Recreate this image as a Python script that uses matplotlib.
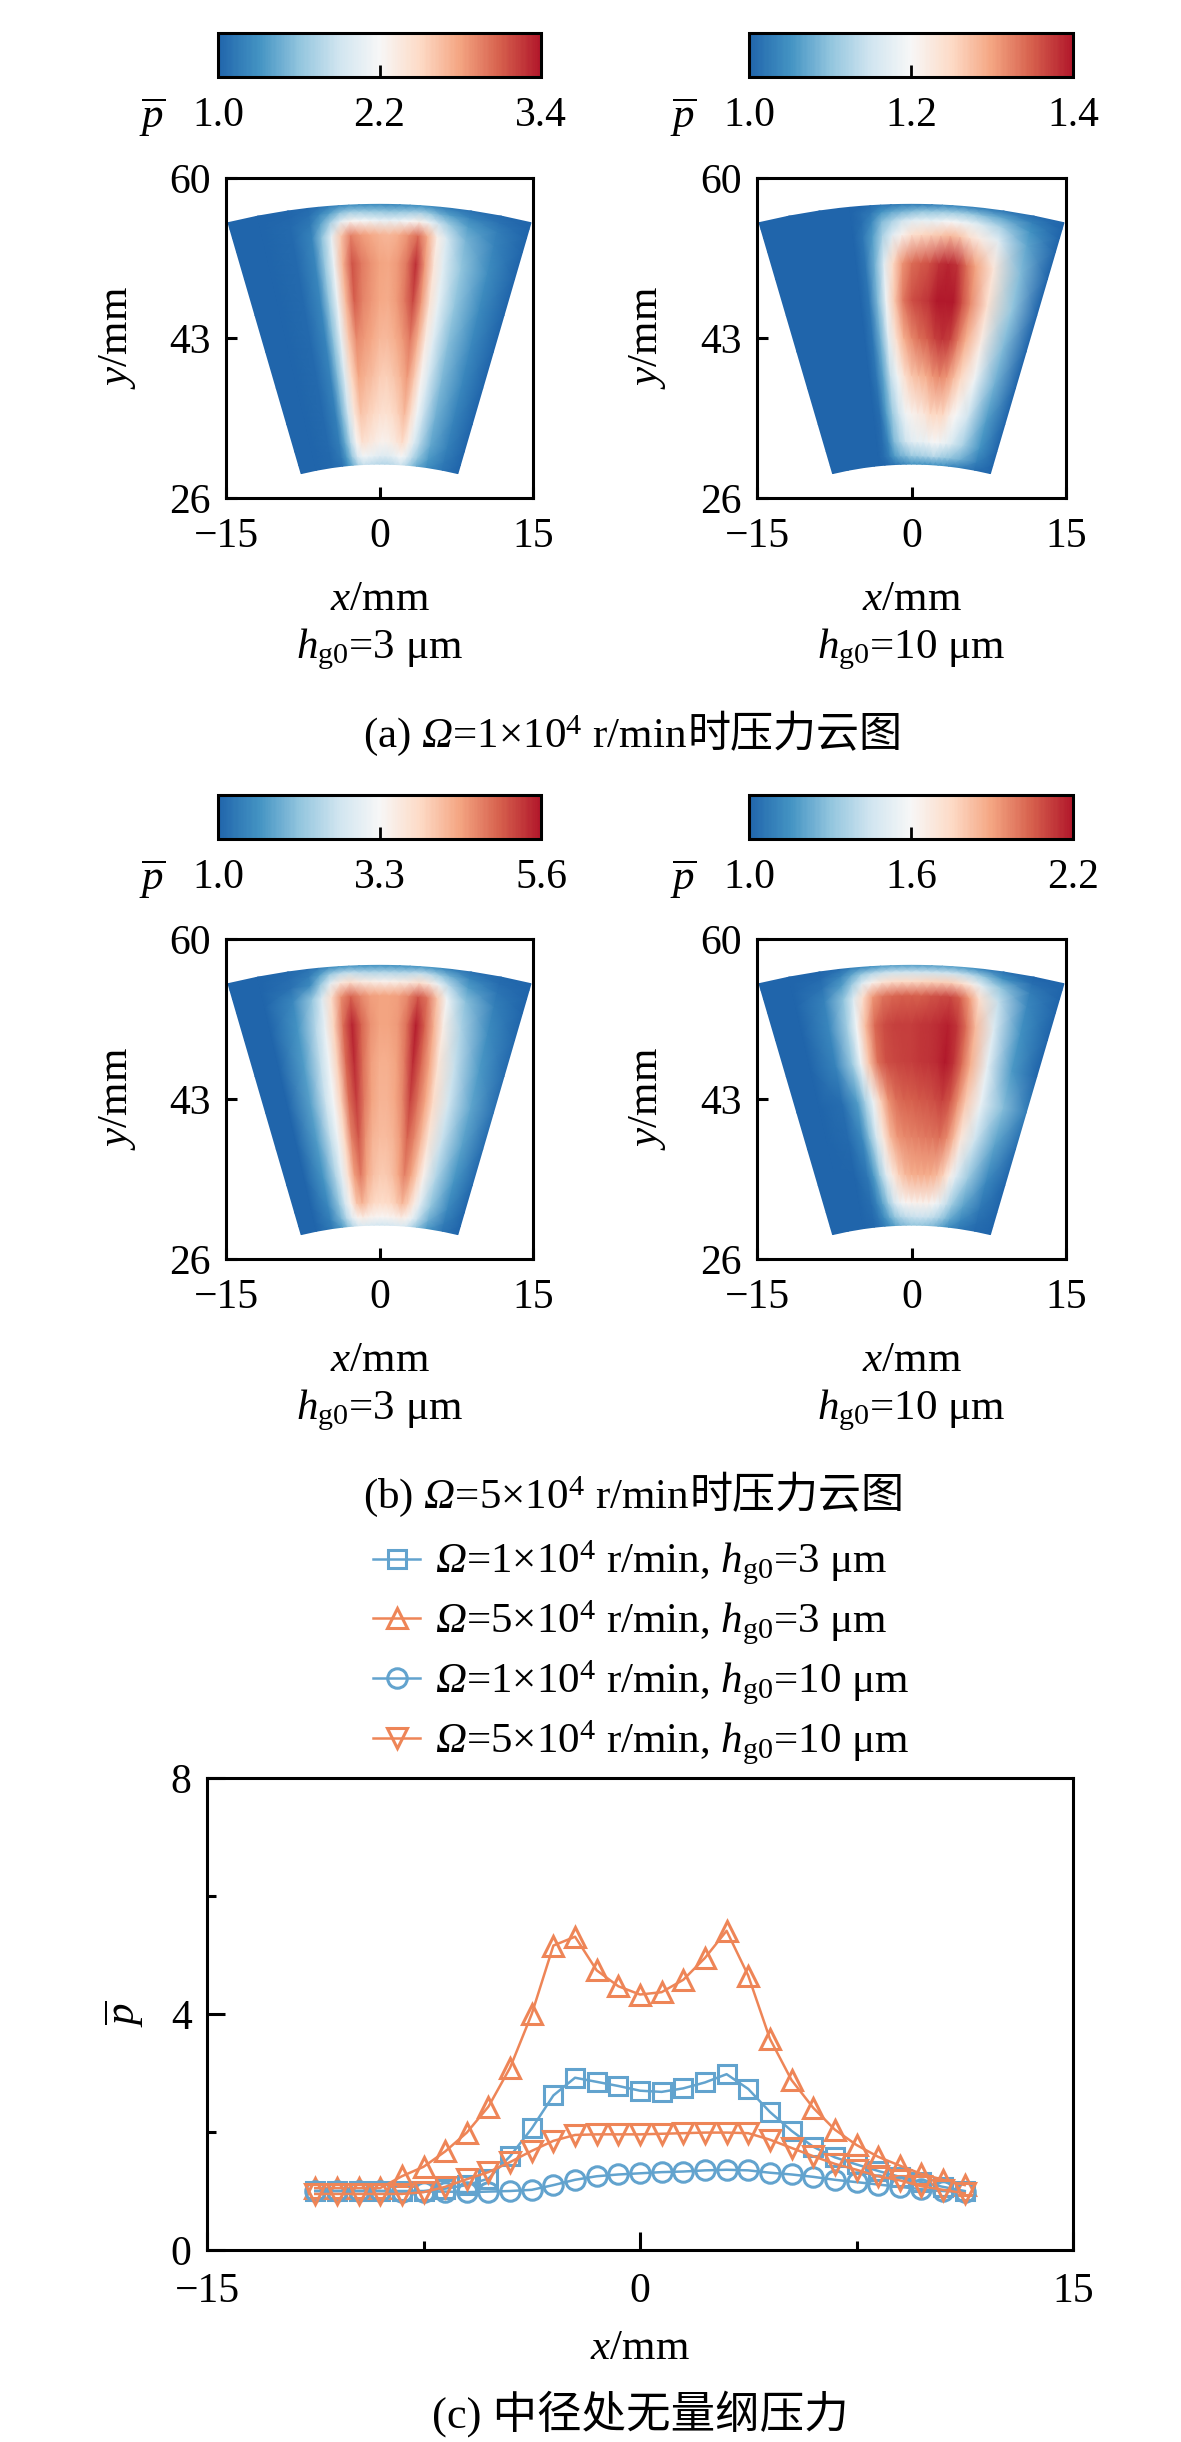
import numpy as np
import matplotlib
matplotlib.use("Agg")
import matplotlib.pyplot as plt
from matplotlib.colors import ListedColormap
from matplotlib.ticker import FormatStrFormatter

plt.rcParams['font.family'] = ['Liberation Serif', 'Noto Sans CJK SC']
plt.rcParams['mathtext.fontset'] = 'custom'
plt.rcParams['mathtext.rm'] = 'Liberation Serif'
plt.rcParams['mathtext.it'] = 'Liberation Serif:italic'
plt.rcParams['mathtext.bf'] = 'Liberation Serif:bold'
plt.rcParams['mathtext.sf'] = 'Liberation Serif:italic'
plt.rcParams['font.size'] = 31

# ---------------- data: mid-radius profiles (line chart) ----------------
x_mid = [-11.25, -10.5, -9.75, -9.0, -8.25, -7.5, -6.75, -6.0, -5.25, -4.5, -3.75,
         -3.0, -2.25, -1.5, -0.75, 0.0, 0.75, 1.5, 2.25, 3.0, 3.75, 4.5, 5.25,
         6.0, 6.75, 7.5, 8.25, 9.0, 9.75, 10.5, 11.25]
p_w1_h3 = [1.0, 1.0, 1.0, 1.0, 1.0, 1.0, 1.04, 1.1, 1.21, 1.59, 2.06, 2.62, 2.92, 2.85,
           2.78, 2.70, 2.68, 2.74, 2.84, 2.98, 2.73, 2.34, 2.02, 1.75, 1.57, 1.45, 1.34,
           1.24, 1.15, 1.07, 1.0]
p_w5_h3 = [1.05, 1.05, 1.05, 1.05, 1.25, 1.41, 1.67, 1.99, 2.43, 3.09, 4.0, 5.16, 5.31,
           4.74, 4.47, 4.33, 4.37, 4.58, 4.95, 5.41, 4.65, 3.58, 2.88, 2.41, 2.04, 1.78,
           1.58, 1.43, 1.29, 1.19, 1.10]
p_w1_h10 = [1.0, 1.0, 1.0, 1.0, 0.99, 0.99, 0.99, 0.98, 0.99, 1.0, 1.02, 1.1, 1.19, 1.25,
            1.28, 1.30, 1.32, 1.33, 1.35, 1.36, 1.35, 1.31, 1.28, 1.24, 1.19, 1.15, 1.11,
            1.07, 1.03, 1.0, 0.98]
p_w5_h10 = [0.95, 0.95, 0.95, 0.95, 0.95, 0.98, 1.07, 1.2, 1.32, 1.49, 1.68, 1.85, 1.95,
            1.96, 1.96, 1.96, 1.97, 1.98, 1.99, 1.99, 1.98, 1.87, 1.73, 1.59, 1.46, 1.36,
            1.25, 1.18, 1.08, 1.02, 0.96]

series_labels = [
    r'$\mathsf{Ω}$=1×10$^{4}$ r/min, $h_{\mathrm{g0}}$=3 μm',
    r'$\mathsf{Ω}$=5×10$^{4}$ r/min, $h_{\mathrm{g0}}$=3 μm',
    r'$\mathsf{Ω}$=1×10$^{4}$ r/min, $h_{\mathrm{g0}}$=10 μm',
    r'$\mathsf{Ω}$=5×10$^{4}$ r/min, $h_{\mathrm{g0}}$=10 μm',
]

# ---------------- data: pressure fields on the sector pad ----------------
theta_deg = [-15, -12, -9, -7, -6, -5, -4, -3, -2, -1, 0, 1, 2, 3, 4, 5, 6, 7, 9, 12, 15]
radius_mm = [29.6, 30.5, 32, 35, 39, 43, 47, 51, 54, 55.5, 56.5, 57.2]

field_w1_h3 = [
    [1, 1, 1.02, 1.09, 1.27, 1.48, 1.73, 1.86, 1.83, 1.8, 1.77, 1.76, 1.78, 1.83, 1.89, 1.78, 1.6, 1.46, 1.26, 1.11, 1],
    [1, 1, 1.02, 1.13, 1.35, 1.64, 1.97, 2.15, 2.11, 2.07, 2.02, 2.01, 2.04, 2.1, 2.19, 2.04, 1.8, 1.61, 1.34, 1.14, 1],
    [1, 1, 1.03, 1.16, 1.44, 1.8, 2.22, 2.44, 2.39, 2.34, 2.28, 2.26, 2.31, 2.38, 2.49, 2.3, 2.0, 1.77, 1.43, 1.18, 1],
    [1, 1, 1.03, 1.18, 1.5, 1.9, 2.38, 2.63, 2.57, 2.51, 2.45, 2.43, 2.48, 2.56, 2.68, 2.47, 2.14, 1.87, 1.48, 1.2, 1],
    [1, 1, 1.04, 1.2, 1.55, 1.99, 2.51, 2.79, 2.72, 2.66, 2.58, 2.56, 2.62, 2.71, 2.84, 2.61, 2.25, 1.95, 1.53, 1.22, 1],
    [1, 1, 1.04, 1.21, 1.59, 2.06, 2.62, 2.92, 2.85, 2.78, 2.70, 2.68, 2.74, 2.84, 2.98, 2.73, 2.34, 2.02, 1.57, 1.24, 1],
    [1, 1, 1.04, 1.22, 1.62, 2.11, 2.7, 3.1, 2.94, 2.86, 2.78, 2.76, 2.83, 2.98, 3.2, 2.84, 2.41, 2.07, 1.6, 1.25, 1],
    [1, 1, 1.04, 1.22, 1.63, 2.13, 2.73, 3.15, 2.98, 2.88, 2.8, 2.78, 2.85, 3.0, 3.3, 2.85, 2.38, 2.03, 1.6, 1.26, 1],
    [1, 1, 1.04, 1.21, 1.59, 2.06, 2.62, 2.95, 2.85, 2.78, 2.72, 2.7, 2.76, 2.88, 3.05, 2.75, 2.3, 1.95, 1.5, 1.2, 1],
    [1, 1, 1.03, 1.14, 1.38, 1.69, 2.05, 2.25, 2.2, 2.16, 2.1, 2.09, 2.13, 2.2, 2.29, 2.12, 1.87, 1.66, 1.37, 1.16, 1],
    [1, 1, 1.01, 1.07, 1.21, 1.37, 1.57, 1.67, 1.65, 1.62, 1.60, 1.59, 1.61, 1.64, 1.69, 1.61, 1.47, 1.36, 1.2, 1.08, 1],
    [1, 1, 1.01, 1.03, 1.09, 1.16, 1.24, 1.29, 1.28, 1.27, 1.26, 1.25, 1.26, 1.28, 1.30, 1.26, 1.2, 1.15, 1.09, 1.04, 1],
]
field_w1_h10 = [
    [1, 1, 1, 1, 1, 1.0, 1.01, 1.02, 1.03, 1.04, 1.05, 1.05, 1.05, 1.05, 1.05, 1.05, 1.05, 1.04, 1.03, 1.01, 1],
    [1, 1, 1, 1, 1, 1.01, 1.03, 1.06, 1.08, 1.09, 1.11, 1.11, 1.12, 1.12, 1.13, 1.12, 1.11, 1.1, 1.08, 1.03, 1],
    [1, 1, 1, 1, 1, 1.01, 1.04, 1.09, 1.12, 1.15, 1.17, 1.18, 1.18, 1.19, 1.2, 1.19, 1.18, 1.16, 1.12, 1.05, 1],
    [1, 1, 1, 1, 1, 1.01, 1.06, 1.11, 1.15, 1.19, 1.21, 1.22, 1.23, 1.25, 1.25, 1.25, 1.22, 1.2, 1.15, 1.06, 1],
    [1, 1, 1, 1, 1, 1.02, 1.07, 1.14, 1.19, 1.24, 1.27, 1.28, 1.29, 1.31, 1.32, 1.31, 1.28, 1.25, 1.19, 1.08, 1],
    [1, 1, 1, 1, 1, 1.02, 1.08, 1.17, 1.24, 1.29, 1.32, 1.34, 1.35, 1.37, 1.38, 1.37, 1.33, 1.29, 1.22, 1.09, 1],
    [1, 1, 1, 1, 1, 1.02, 1.09, 1.19, 1.27, 1.33, 1.36, 1.37, 1.38, 1.40, 1.41, 1.40, 1.36, 1.32, 1.24, 1.1, 1],
    [1, 1, 1, 1, 1, 1.02, 1.08, 1.17, 1.25, 1.31, 1.34, 1.35, 1.36, 1.38, 1.39, 1.38, 1.34, 1.3, 1.23, 1.09, 1],
    [1, 1, 1, 1, 1, 1.02, 1.06, 1.12, 1.17, 1.21, 1.24, 1.25, 1.26, 1.27, 1.28, 1.27, 1.24, 1.22, 1.17, 1.07, 1],
    [1, 1, 1, 1, 1, 1.01, 1.04, 1.09, 1.12, 1.15, 1.17, 1.18, 1.18, 1.19, 1.2, 1.19, 1.18, 1.16, 1.12, 1.05, 1],
    [1, 1, 1, 1, 1, 1.01, 1.02, 1.05, 1.07, 1.08, 1.09, 1.1, 1.1, 1.11, 1.11, 1.11, 1.1, 1.09, 1.07, 1.03, 1],
    [1, 1, 1, 1, 1, 1.0, 1.01, 1.02, 1.02, 1.03, 1.03, 1.03, 1.03, 1.04, 1.04, 1.04, 1.03, 1.03, 1.02, 1.01, 1],
]
field_w5_h3 = [
    [1, 1, 1.25, 1.7, 2.1, 2.5, 2.8, 2.9, 2.85, 2.8, 2.75, 2.75, 2.8, 2.85, 2.9, 2.8, 2.5, 2.2, 1.65, 1.2, 1],
    [1, 1, 1.35, 2.0, 2.5, 3.0, 3.4, 3.55, 3.45, 3.4, 3.35, 3.35, 3.4, 3.45, 3.55, 3.4, 3.05, 2.6, 1.9, 1.3, 1],
    [1, 1, 1.45, 2.2, 2.8, 3.45, 4.1, 4.3, 4.05, 3.9, 3.85, 3.85, 3.9, 4.05, 4.25, 4.0, 3.55, 3.0, 2.15, 1.45, 1],
    [1, 1, 1.6, 2.45, 3.0, 3.75, 4.5, 4.8, 4.4, 4.15, 4.05, 4.05, 4.15, 4.4, 4.75, 4.45, 4.0, 3.45, 2.45, 1.6, 1.05],
    [1, 1, 1.7, 2.6, 3.15, 3.9, 4.75, 5.1, 4.6, 4.3, 4.2, 4.2, 4.3, 4.55, 5.0, 4.7, 4.25, 3.7, 2.65, 1.75, 1.1],
    [1, 1, 1.75, 2.7, 3.25, 4.0, 4.9, 5.3, 4.8, 4.45, 4.3, 4.3, 4.4, 4.7, 5.25, 4.85, 4.4, 3.85, 2.75, 1.8, 1.15],
    [1, 1, 1.7, 2.6, 3.2, 4.0, 4.95, 5.45, 4.9, 4.5, 4.35, 4.35, 4.45, 4.8, 5.45, 4.95, 4.4, 3.7, 2.6, 1.65, 1.1],
    [1, 1, 1.6, 2.5, 3.1, 3.95, 4.9, 5.5, 5.0, 4.6, 4.45, 4.45, 4.55, 4.9, 5.55, 5.0, 4.3, 3.5, 2.4, 1.5, 1.05],
    [1, 1, 1.45, 2.2, 2.9, 3.8, 4.6, 5.0, 4.7, 4.5, 4.45, 4.45, 4.5, 4.7, 5.1, 4.8, 4.1, 3.2, 2.1, 1.35, 1],
    [1, 1, 1.15, 1.5, 2.2, 3.0, 3.6, 3.8, 3.6, 3.5, 3.45, 3.45, 3.5, 3.6, 3.8, 3.6, 3.1, 2.5, 1.7, 1.2, 1],
    [1, 1, 1.1, 1.3, 1.7, 2.2, 2.5, 2.6, 2.5, 2.45, 2.45, 2.45, 2.45, 2.5, 2.6, 2.5, 2.2, 1.9, 1.4, 1.1, 1],
    [1, 1, 1.05, 1.15, 1.3, 1.5, 1.6, 1.65, 1.6, 1.6, 1.6, 1.6, 1.6, 1.62, 1.65, 1.6, 1.5, 1.35, 1.15, 1.05, 1],
]
field_w5_h10 = [
    [1, 1, 1, 1.01, 1.04, 1.08, 1.14, 1.2, 1.25, 1.28, 1.3, 1.3, 1.3, 1.29, 1.27, 1.23, 1.18, 1.13, 1.07, 1.02, 1],
    [1, 1, 1, 1.02, 1.06, 1.13, 1.22, 1.3, 1.37, 1.41, 1.43, 1.44, 1.44, 1.43, 1.4, 1.35, 1.29, 1.22, 1.12, 1.03, 1],
    [1, 1, 1, 1.03, 1.1, 1.2, 1.33, 1.46, 1.56, 1.61, 1.63, 1.64, 1.64, 1.63, 1.59, 1.52, 1.43, 1.33, 1.2, 1.06, 1],
    [1, 1, 1.0, 1.06, 1.17, 1.33, 1.51, 1.67, 1.78, 1.84, 1.87, 1.88, 1.88, 1.87, 1.84, 1.77, 1.65, 1.51, 1.32, 1.12, 1],
    [1, 1, 1.02, 1.12, 1.28, 1.47, 1.68, 1.84, 1.93, 1.96, 1.97, 1.98, 1.99, 2.0, 2.01, 1.96, 1.84, 1.69, 1.45, 1.2, 1.03],
    [1, 1, 1.03, 1.18, 1.36, 1.55, 1.78, 1.94, 2.01, 2.04, 2.05, 2.06, 2.07, 2.09, 2.11, 2.06, 1.94, 1.8, 1.55, 1.28, 1.08],
    [1, 1, 1.1, 1.33, 1.56, 1.82, 2.01, 2.08, 2.1, 2.11, 2.12, 2.13, 2.14, 2.16, 2.2, 2.14, 2.02, 1.87, 1.53, 1.17, 1],
    [1, 1, 1.12, 1.35, 1.58, 1.84, 2.03, 2.09, 2.11, 2.12, 2.12, 2.13, 2.14, 2.16, 2.18, 2.13, 2.01, 1.84, 1.5, 1.15, 1],
    [1, 1, 1.1, 1.3, 1.5, 1.74, 1.92, 2.0, 2.03, 2.05, 2.05, 2.05, 2.07, 2.09, 2.1, 2.05, 1.91, 1.73, 1.42, 1.12, 1],
    [1, 1, 1.05, 1.18, 1.33, 1.5, 1.63, 1.7, 1.74, 1.75, 1.75, 1.76, 1.77, 1.78, 1.78, 1.74, 1.66, 1.52, 1.3, 1.08, 1],
    [1, 1, 1.02, 1.1, 1.2, 1.3, 1.38, 1.42, 1.45, 1.45, 1.45, 1.45, 1.45, 1.45, 1.45, 1.42, 1.38, 1.3, 1.15, 1.03, 1],
    [1, 1, 1.0, 1.03, 1.08, 1.12, 1.15, 1.18, 1.2, 1.2, 1.2, 1.2, 1.2, 1.2, 1.2, 1.18, 1.15, 1.1, 1.05, 1.0, 1],
]

cbar_ticks_w1_h3 = [1.0, 2.2, 3.4]
cbar_ticks_w1_h10 = [1.0, 1.2, 1.4]
cbar_ticks_w5_h3 = [1.0, 3.3, 5.6]
cbar_ticks_w5_h10 = [1.0, 1.6, 2.2]

caption_a = (r'(a) $\mathsf{Ω}$=1×10$^{4}$ r/min', '时压力云图')
caption_b = (r'(b) $\mathsf{Ω}$=5×10$^{4}$ r/min', '时压力云图')
caption_c = '(c) 中径处无量纲压力'

# ---------------- layout helpers ----------------
W, H = 1181, 2442
fig = plt.figure(figsize=(W / 100, H / 100), dpi=100)
renderer = fig.canvas.get_renderer()


def box(l, t, r, b):
    return [l / W, 1 - b / H, (r - l) / W, (b - t) / H]


cmap = ListedColormap(plt.cm.RdBu_r(np.linspace(0.1, 0.9, 256)))
th = np.deg2rad(np.array(theta_deg, dtype=float))
rr = np.array(radius_mm, dtype=float)
XX = np.outer(rr, np.sin(th))
YY = np.outer(rr, np.cos(th))

SPW = 2.2
FS = 31      # captions, labels, legend
FT = 30      # tick labels


def draw_map(axbox, caxbox, field, cticks, hlabel):
    ax = fig.add_axes(box(*axbox))
    m = ax.pcolormesh(XX, YY, np.array(field), cmap=cmap, shading='gouraud',
                      vmin=cticks[0], vmax=cticks[-1])
    ax.set_xlim(-15, 15)
    ax.set_ylim(26, 60)
    ax.set_xticks([-15, 0, 15])
    ax.set_yticks([26, 43, 60])
    ax.tick_params(direction='in', length=8, width=SPW, labelsize=FT,
                   top=False, right=False)
    ax.tick_params(axis='x', pad=14)
    ax.tick_params(axis='y', pad=11)
    for s in ax.spines.values():
        s.set_linewidth(SPW)
    h = axbox[3] - axbox[1]
    ax.set_xlabel(r'$x$/mm', fontsize=FS)
    ax.xaxis.label.set_va('baseline')
    ax.xaxis.set_label_coords(0.5, -112 / h)
    ax.text(0.5, -160 / h, hlabel, transform=ax.transAxes, ha='center',
            va='baseline', fontsize=FS)
    ax.set_ylabel(r'$y$/mm', fontsize=FS)
    ax.yaxis.label.set_va('center')
    ax.yaxis.set_label_coords(-109 / (axbox[2] - axbox[0]), 0.5)

    cax = fig.add_axes(box(*caxbox))
    cb = fig.colorbar(m, cax=cax, orientation='horizontal', ticks=cticks)
    cb.outline.set_linewidth(SPW)
    cax.tick_params(direction='in', length=8.5, width=2, labelsize=FT, pad=14)
    cax.xaxis.set_major_formatter(FormatStrFormatter('%.1f'))
    cw = caxbox[2] - caxbox[0]
    ch = caxbox[3] - caxbox[1]
    cax.text(-66 / cw, -51 / ch, r'$\overline{p}$', transform=cax.transAxes,
             ha='center', va='baseline', fontsize=FS)
    return ax


def caption(x_px, base_px, parts):
    t1 = fig.text(x_px / W, 1 - base_px / H, parts[0], ha='left', va='baseline',
                  fontsize=FS)
    bb = t1.get_window_extent(renderer=renderer)
    fig.text(bb.x1 / W, 1 - base_px / H, parts[1], ha='left',
             va='baseline', fontsize=FS, family=['Noto Sans CJK SC'])


draw_map((226, 178, 533, 498), (218, 33, 541, 77), field_w1_h3, cbar_ticks_w1_h3,
         r'$h_{\mathrm{g0}}$=3 μm')
draw_map((757, 178, 1066, 498), (749, 33, 1073, 77), field_w1_h10, cbar_ticks_w1_h10,
         r'$h_{\mathrm{g0}}$=10 μm')
draw_map((226, 939, 533, 1259), (218, 795, 541, 839), field_w5_h3, cbar_ticks_w5_h3,
         r'$h_{\mathrm{g0}}$=3 μm')
draw_map((757, 939, 1066, 1259), (749, 795, 1073, 839), field_w5_h10, cbar_ticks_w5_h10,
         r'$h_{\mathrm{g0}}$=10 μm')

caption(363, 747, caption_a)
caption(363, 1508, caption_b)

# ---------------- line chart ----------------
blue = '#62a3ce'
orange = '#ee8557'
ax3 = fig.add_axes(box(207, 1778, 1073, 2250))
styles = [(p_w1_h3, blue, 's', 13), (p_w5_h3, orange, '^', 15),
          (p_w1_h10, blue, 'o', 14), (p_w5_h10, orange, 'v', 15)]
handles = []
for (vals, col, mk, ms), lab in zip(styles, series_labels):
    ln, = ax3.plot(x_mid, vals, color=col, lw=1.8, marker=mk, ms=ms,
                   mfc='none', mec=col, mew=2.2, label=lab)
    handles.append(ln)
ax3.set_xlim(-15, 15)
ax3.set_ylim(0, 8)
ax3.set_xticks([-15, 0, 15])
ax3.set_xticks([-7.5, 7.5], minor=True)
ax3.set_yticks([0, 4, 8])
ax3.set_yticks([2, 6], minor=True)
ax3.tick_params(which='both', direction='in', width=SPW, labelsize=FT,
                top=False, right=False)
ax3.tick_params(which='major', length=13)
ax3.tick_params(which='minor', length=6.5)
ax3.tick_params(axis='x', which='both', pad=16)
ax3.tick_params(axis='y', which='both', pad=11)
for s in ax3.spines.values():
    s.set_linewidth(SPW)
ax3.set_xlabel(r'$x$/mm', fontsize=FS)
ax3.xaxis.label.set_va('baseline')
ax3.xaxis.set_label_coords(0.5, -(2359 - 2250) / 472)
ax3.set_ylabel(r'$\overline{p}$', fontsize=FS)
ax3.yaxis.label.set_va('center')
ax3.yaxis.set_label_coords(-(207 - 124) / 866, 0.5)

fig.legend(handles, series_labels, loc='upper left',
           bbox_to_anchor=(373 / W, 1 - 1539 / H), frameon=False, borderpad=0,
           borderaxespad=0, handlelength=1.1, handletextpad=0.35,
           labelspacing=0.27, fontsize=FS)

fig.text(640 / W, 1 - 2428 / H, caption_c, ha='center', va='baseline', fontsize=32)

fig.savefig('out.png', dpi=100)
